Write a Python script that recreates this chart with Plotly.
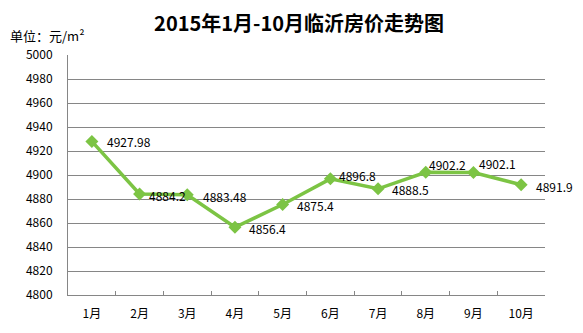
import plotly.graph_objects as go

months = ["1月", "2月", "3月", "4月", "5月", "6月", "7月", "8月", "9月", "10月"]
prices = [4927.98, 4884.2, 4883.48, 4856.4, 4875.4, 4896.8, 4888.5, 4902.2, 4902.1, 4891.9]
labels = ["4927.98", "4884.2", "4883.48", "4856.4", "4875.4", "4896.8", "4888.5", "4902.2", "4902.1", "4891.9"]
y_ticks = list(range(4800, 5001, 20))

# label offsets (pixels) relative to each point
label_dx = [13, 7, 14, 12, 12, 7, 12, 1, 4, 13]
label_dy = [0, -2, -2, -1, -1, 3, -1, 8, 9, -2]

font = "Noto Sans CJK SC"
green = "#7CC444"

fig = go.Figure()
fig.add_trace(go.Scatter(
    x=months, y=prices, mode="lines+markers",
    line=dict(color=green, width=3.5),
    marker=dict(symbol="diamond", size=10, color=green),
    cliponaxis=False, hoverinfo="skip",
))

annots = [dict(text="单位：元/m²", xref="paper", yref="paper", x=-0.126, y=(297 - 35) / 242,
               xanchor="left", yanchor="middle", showarrow=False,
               font=dict(family=font, size=13, color="#000000"))]
for m, p, t, dx, dy in zip(months, prices, labels, label_dx, label_dy):
    annots.append(dict(x=m, y=p, xref="x", yref="y", text=t, showarrow=False,
                       xanchor="left", yanchor="middle", xshift=dx, yshift=dy,
                       font=dict(family=font, size=12, color="#000000")))

fig.update_layout(
    width=583, height=333,
    margin=dict(l=68, r=38, t=55, b=36),
    paper_bgcolor="white", plot_bgcolor="white",
    showlegend=False,
    title=dict(text="<b>2015年1月-10月临沂房价走势图</b>", x=0.513, xanchor="center",
               y=1 - 24 / 333, yanchor="middle",
               font=dict(family=font, size=20, color="#000000")),
    annotations=annots,
)
fig.update_xaxes(
    type="category", tickson="boundaries", ticks="inside", ticklen=4,
    tickcolor="#868686", showline=True, linecolor="#868686", linewidth=1,
    showgrid=False, tickfont=dict(family=font, size=12, color="#000000"),
    ticklabelstandoff=8, range=[-0.5, 9.5],
)
fig.update_yaxes(
    range=[4800, 5000], tickvals=y_ticks, showgrid=True, gridcolor="#868686", gridwidth=1,
    showline=True, linecolor="#868686", linewidth=1, ticks="",
    tickfont=dict(family=font, size=12, color="#000000"), zeroline=False,
    ticklabelstandoff=12,
)
fig.write_html("out.html")
